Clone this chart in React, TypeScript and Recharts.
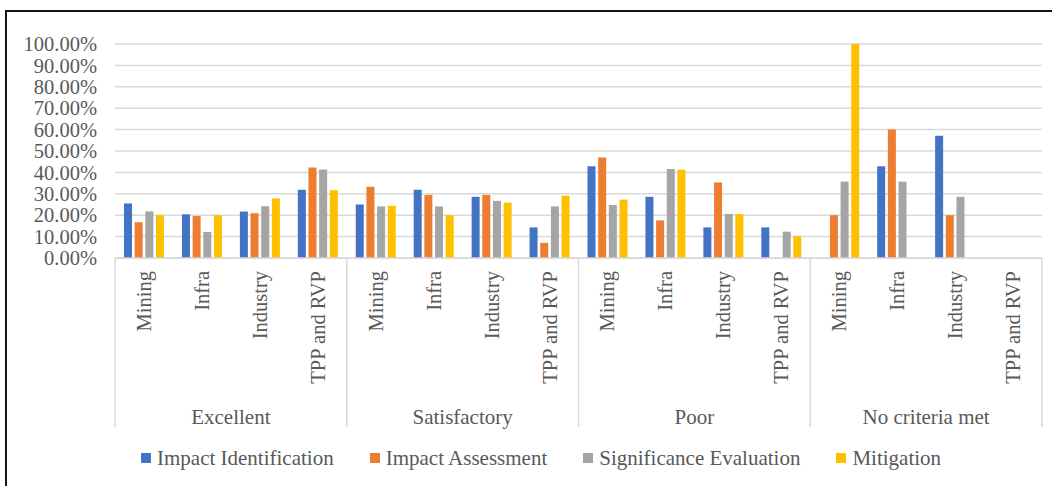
import React from "react";
import { BarChart, Bar, XAxis, YAxis, CartesianGrid, Legend } from "recharts";

const groups = ["Excellent", "Satisfactory", "Poor", "No criteria met"];
const sectors = ["Mining", "Infra", "Industry", "TPP and RVP"];

// values in %, 16 per series (group x sector)
const identification = [25.5, 20.4, 21.7, 31.9, 25.0, 31.9, 28.6, 14.3, 42.9, 28.6, 14.3, 14.3, null, 42.9, 57.1, null];
const assessment = [16.7, 19.6, 20.9, 42.3, 33.3, 29.5, 29.5, 7.1, 47.0, 17.6, 35.3, null, 20.0, 60.0, 20.0, null];
const significance = [21.8, 12.2, 24.2, 41.3, 24.1, 24.1, 26.7, 24.1, 24.8, 41.6, 20.6, 12.3, 35.7, 35.7, 28.6, null];
const mitigation = [20.0, 20.0, 27.8, 31.7, 24.4, 20.0, 25.9, 29.1, 27.3, 41.2, 20.5, 10.3, 100, null, null, null];

const yTicks = [0, 10, 20, 30, 40, 50, 60, 70, 80, 90, 100];

const series = [
  { key: "ident", name: "Impact Identification", color: "#4472C4" },
  { key: "assess", name: "Impact Assessment", color: "#ED7D31" },
  { key: "signif", name: "Significance Evaluation", color: "#A5A5A5" },
  { key: "mitig", name: "Mitigation", color: "#FFC000" },
];

const data = groups.flatMap((g, gi) =>
  sectors.map((s, si) => {
    const i = gi * 4 + si;
    return {
      group: g,
      sector: s,
      ident: identification[i],
      assess: assessment[i],
      signif: significance[i],
      mitig: mitigation[i],
    };
  })
);

const FONT = "Liberation Serif";
const TEXT = "#595959";
const LINE = "#d9d9d9";

const SectorTick = (props: any) => {
  const { x, y, payload, index } = props;
  const off = payload?.offset ?? 29;
  const axisY = y - 8;
  return (
    <g>
      {index % 4 === 0 && (
        <line x1={x - off} x2={x - off} y1={axisY} y2={axisY + 169} stroke={LINE} strokeWidth={1.5} />
      )}
      {index === data.length - 1 && (
        <line x1={x + off} x2={x + off} y1={axisY} y2={axisY + 169} stroke={LINE} strokeWidth={1.5} />
      )}
      <text
        x={x}
        y={axisY + 13}
        transform={`rotate(-90, ${x}, ${axisY + 13})`}
        textAnchor="end"
        dominantBaseline="central"
        fontSize={20.5}
        fontFamily={FONT}
        fill={TEXT}
      >
        {payload.value}
      </text>
    </g>
  );
};

const LegendContent = () => (
  <div style={{ display: "flex", height: 24, lineHeight: "24px", whiteSpace: "nowrap", fontFamily: FONT, fontSize: 21, color: TEXT }}>
    {series.map((s) => (
      <div key={s.key} style={{ display: "flex", alignItems: "center", marginRight: 36 }}>
        <span style={{ width: 10, height: 10, background: s.color, marginRight: 6, display: "inline-block" }} />
        <span>{s.name}</span>
      </div>
    ))}
  </div>
);

export default function App() {
  return (
    <div style={{ position: "absolute", left: 0, top: 0, width: 1052, height: 486, overflow: "hidden", background: "#fff", fontFamily: FONT }}>
      <div style={{ position: "absolute", left: 5, top: 10, width: 2000, height: 2000, border: "2px solid #151515" }} />
      <div style={{ position: "absolute", left: 0, top: 0 }}>
        <BarChart
          width={1052}
          height={486}
          data={data}
          margin={{ top: 44, right: 10, left: 0, bottom: 16 }}
          barSize={8}
          barGap={2.67}
          style={{ fontFamily: FONT }}
        >
          <CartesianGrid vertical={false} stroke={LINE} strokeWidth={1.5} />
          <XAxis
            dataKey="sector"
            interval={0}
            height={140}
            tickLine={false}
            tickSize={6}
            tickMargin={2}
            axisLine={{ stroke: LINE, strokeWidth: 1.5 }}
            tick={<SectorTick />}
          />
          <XAxis
            xAxisId="group"
            dataKey="group"
            allowDuplicatedCategory={false}
            interval={0}
            height={48}
            tickLine={false}
            axisLine={false}
            tickSize={6}
            tickMargin={5}
            tick={{ fontSize: 21, fontFamily: FONT, fill: TEXT }}
          />
          <YAxis
            width={115}
            domain={[0, 100]}
            ticks={yTicks}
            interval={0}
            axisLine={false}
            tickLine={false}
            tickSize={6}
            tickMargin={12}
            tickFormatter={(v) => `${v.toFixed(2)}%`}
            tick={{ fontSize: 20.5, fontFamily: FONT, fill: TEXT }}
          />
          <Legend
            verticalAlign="bottom"
            content={<LegendContent />}
            wrapperStyle={{ left: 141, width: 900, height: 24 }}
          />
          {series.map((s) => (
            <Bar key={s.key} dataKey={s.key} name={s.name} fill={s.color} isAnimationActive={false} />
          ))}
        </BarChart>
      </div>
    </div>
  );
}
